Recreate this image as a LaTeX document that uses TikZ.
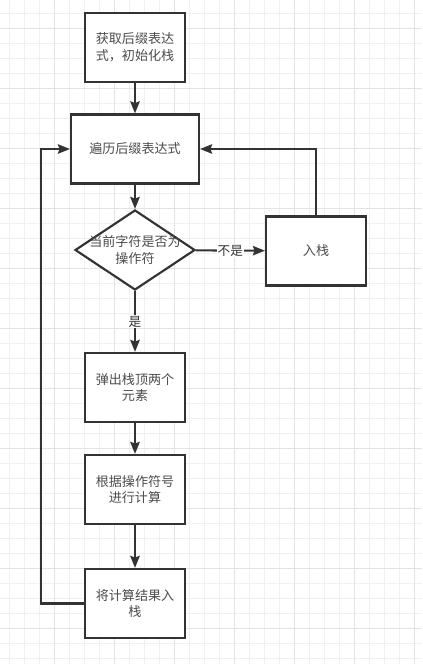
\documentclass[tikz,border=0pt]{standalone}
\usepackage{fontspec}
\setmainfont{Noto Sans CJK SC}
\usetikzlibrary{shapes.geometric,arrows.meta}

\begin{document}
\begin{tikzpicture}[x=0.75pt,y=-0.75pt,line width=1.6pt,
    box/.style={draw=black!80,fill=white,minimum width=75pt,minimum height=51.75pt,
      inner sep=1pt,align=center,text=black!70,font=\fontsize{9.8pt}{12.5pt}\selectfont},
    decide/.style={diamond,draw=black!80,fill=white,minimum width=90pt,minimum height=60pt,
      inner sep=0pt},
    lbl/.style={text=black!70,align=center,font=\fontsize{9.8pt}{12.5pt}\selectfont},
    tag/.style={fill=white,inner sep=0.5pt,text=black!80,font=\fontsize{9.5pt}{11pt}\selectfont},
    arr/.style={draw=black!80,-{Stealth[length=9pt,width=7pt,inset=1.2pt]}}]
  \useasboundingbox (0,0) rectangle (422,664);
  \fill[white] (0,0) rectangle (422,664);

  % grid
  \foreach \x in {9,24,...,414} \draw[line width=0.75pt,black!6] (\x,0) -- (\x,664);
  \foreach \y in {13,28,...,658} \draw[line width=0.75pt,black!6] (0,\y) -- (422,\y);
  \foreach \x in {54,114,...,414} \draw[line width=0.75pt,black!11] (\x,0) -- (\x,664);
  \foreach \y in {28,88,...,628} \draw[line width=0.75pt,black!11] (0,\y) -- (422,\y);

  % steps
  \node[box] (init) at (135,47.5) {获取后缀表达\\式，初始化栈};
  \node[box,minimum width=96pt] (scan) at (135,149) {遍历后缀表达式};
  \node[decide] (isop) at (135,250) {};
  \node[lbl] at (isop) {当前字符是否为\\操作符};
  \node[box] (push) at (316,251) {入栈};
  \node[box] (pop) at (135,387.5) {弹出栈顶两个\\元素};
  \node[box] (calc) at (135,489.5) {根据操作符号\\进行计算};
  \node[box] (res) at (135,603.5) {将计算结果入\\栈};
  \coordinate (back) at (41,149);

  \draw[arr] (init) -- (scan);
  \draw[arr] (scan) -- (isop);
  \draw[arr] (isop) -- node[tag] {不是} (push);
  \draw[arr] (isop) -- node[tag] {是} (pop);
  \draw[arr] (push.north) |- (scan.east);
  \draw[arr] (pop) -- (calc);
  \draw[arr] (calc) -- (res);
  \draw[arr] (res.west) -| (back) -- (scan.west);
\end{tikzpicture}
\end{document}
